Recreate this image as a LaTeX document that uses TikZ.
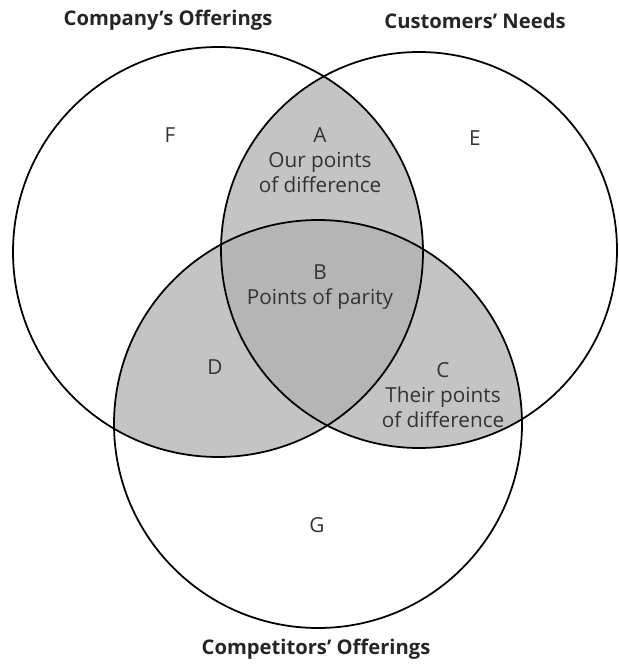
\documentclass[tikz,border=0pt]{standalone}
\usepackage{fontspec}
\setmainfont{Open Sans}
\usetikzlibrary{positioning}

\tikzset{
  setline/.style={line width=1pt, black},
  lens/.style={fill=black!23},
  core/.style={fill=black!29},
  regionlabel/.style={align=center, text=black!80, font=\fontsize{11.8}{14.3}\selectfont},
  setname/.style={font=\fontsize{11.5}{13}\selectfont\bfseries, text=black!85}
}

\begin{document}
\begin{tikzpicture}[x=0.02cm, y=-0.02cm]
  \useasboundingbox (0,0) rectangle (618,665);
  %--- circle centres ---
  \coordinate (cL) at (218,252);
  \coordinate (cR) at (419,250);
  \coordinate (cB) at (318,424);
  \def\rL{205}\def\rR{198}\def\rB{204}
  %--- shaded overlaps ---
  \begin{scope}
    \clip (cL) circle (\rL);
    \fill[lens] (cR) circle (\rR);
    \fill[lens] (cB) circle (\rB);
  \end{scope}
  \begin{scope}
    \clip (cR) circle (\rR);
    \fill[lens] (cB) circle (\rB);
  \end{scope}
  \begin{scope}
    \clip (cL) circle (\rL);
    \clip (cR) circle (\rR);
    \fill[core] (cB) circle (\rB);
  \end{scope}
  %--- outlines ---
  \draw[setline] (cL) circle (\rL);
  \draw[setline] (cR) circle (\rR);
  \draw[setline] (cB) circle (\rB);
  %--- set names ---
  \node[setname] (company) at (168,20) {Company’s Offerings};
  \node[setname] (customers) at (475,21) {Customers’ Needs};
  \node[setname] (competitors) at (316,649) {Competitors’ Offerings};
  %--- region labels ---
  \node[regionlabel] (F) at (170,135) {F};
  \node[regionlabel] (E) at (475,138) {E};
  \node[regionlabel] (A) at (320,160) {A\\Our points\\of difference};
  \node[regionlabel] (B) at (320,287) {B\\Points of parity};
  \node[regionlabel] (D) at (215,367) {D};
  \node[regionlabel] (C) at (443,395) {C\\Their points\\of difference};
  \node[regionlabel] (G) at (317,525) {G};
\end{tikzpicture}
\end{document}
